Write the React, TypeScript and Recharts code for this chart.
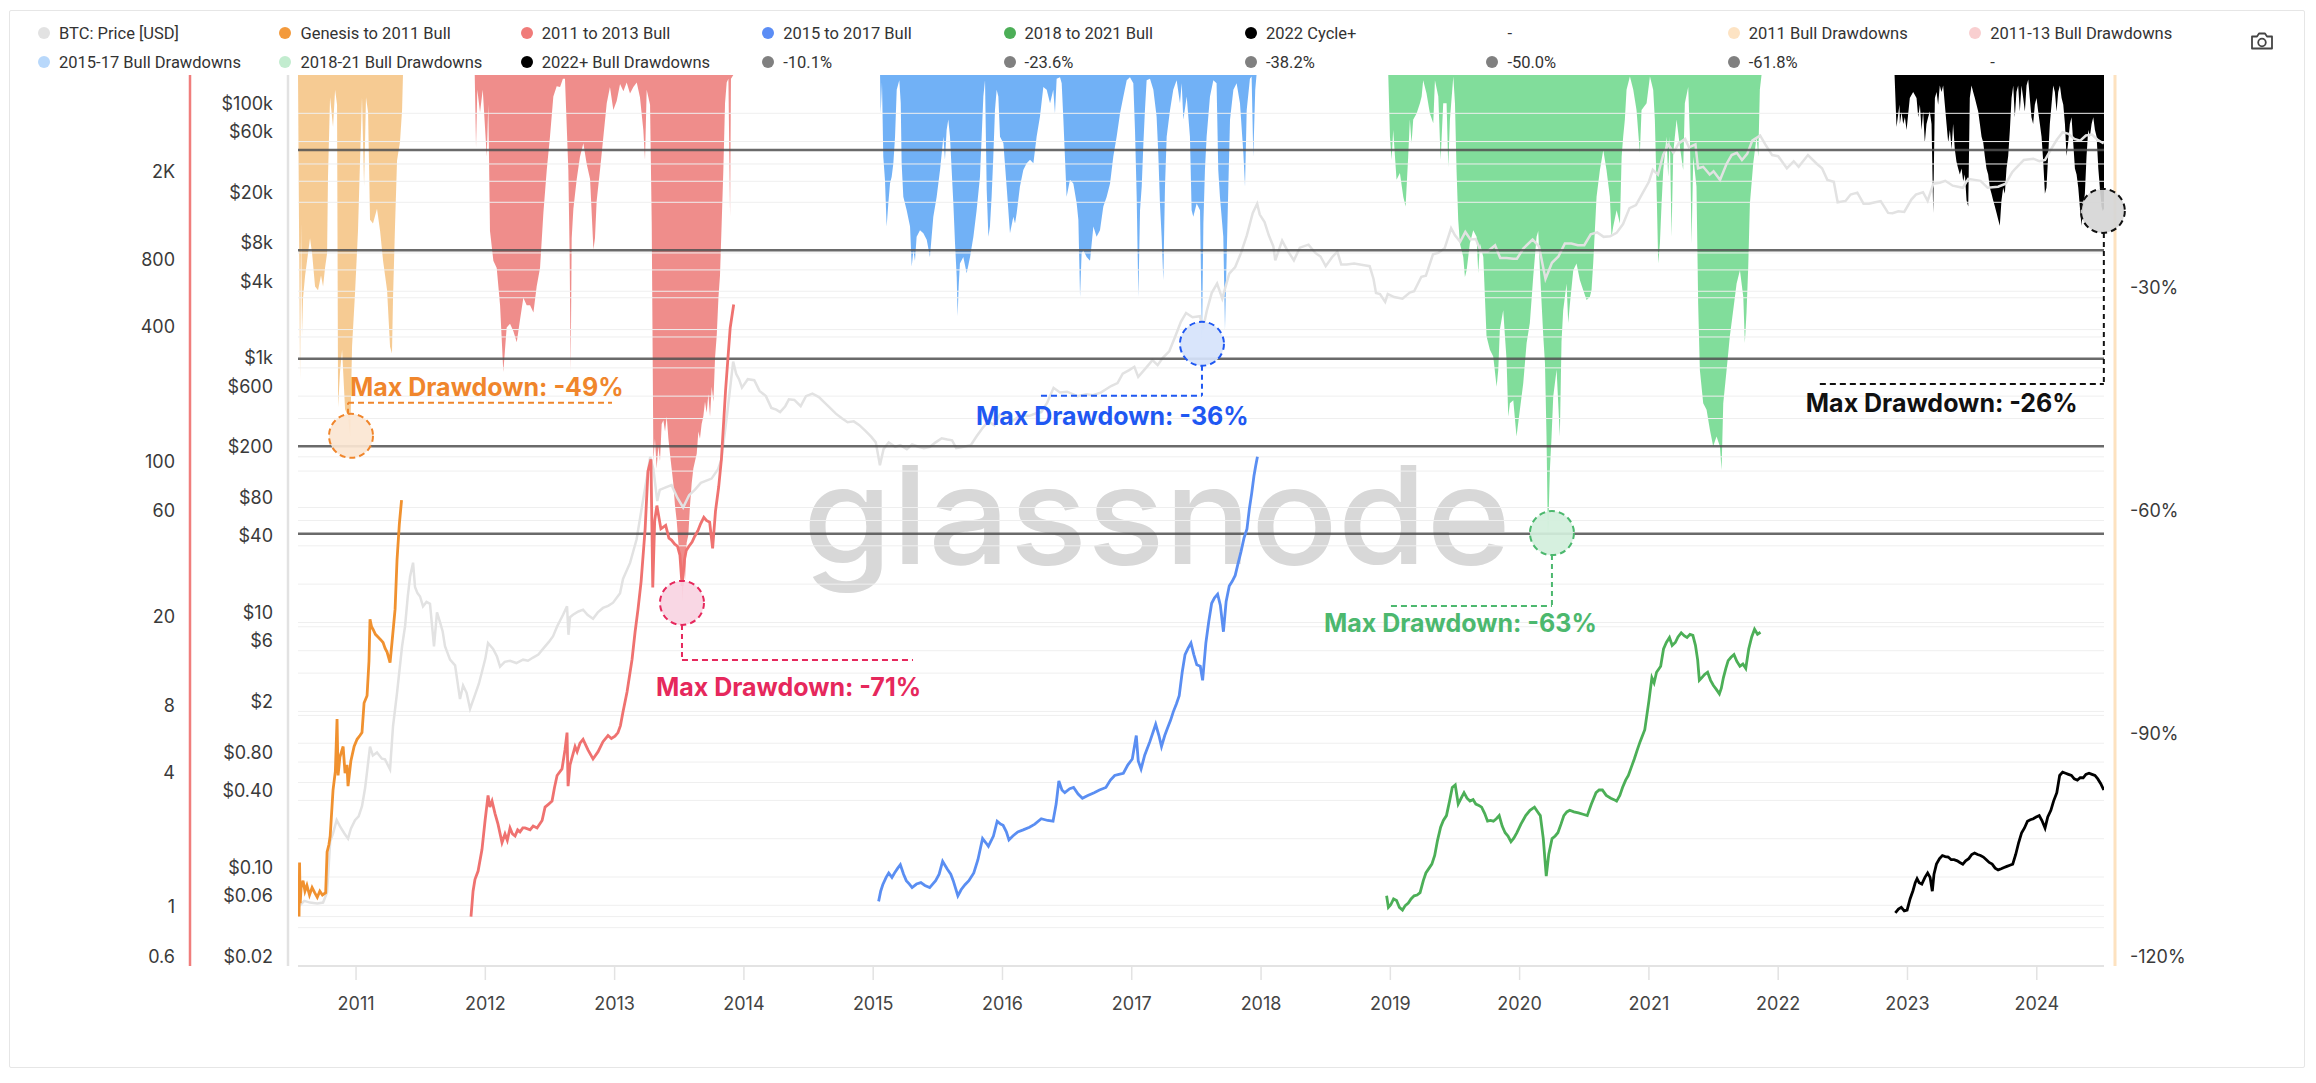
import React from 'react';
import { ComposedChart, Line, Area, XAxis, YAxis, ReferenceLine, ReferenceDot } from 'recharts';

// ---------- axes / categories ----------
const X_START = 2010.551;
const X_END = 2024.52;
const YEAR_TICKS = [2011, 2012, 2013, 2014, 2015, 2016, 2017, 2018, 2019, 2020, 2021, 2022, 2023, 2024];
const PRICE_TICKS = [100000, 60000, 40000, 20000, 8000, 4000, 2000, 1000, 600, 400, 200, 80, 40, 20, 10, 6, 4, 2, 0.8, 0.4, 0.2, 0.1, 0.06, 0.04, 0.02];
const PRICE_LABELED = [100000, 60000, 20000, 8000, 4000, 1000, 600, 200, 80, 40, 10, 6, 2, 0.8, 0.4, 0.1, 0.06, 0.02];
const MULT_TICKS = [2000, 800, 400, 100, 60, 20, 8, 4, 1, 0.6];
const DD_TICKS = [-30, -60, -90, -120];
const FIB_LEVELS = [-10.1, -23.6, -38.2, -50.0, -61.8];

// axis ids (inner price axis must sort before the outer multiple axis)
const AX_PRICE = 'a_price';
const AX_MULT = 'b_mult';
const AX_DD = 'c_dd';

// ---------- BTC price [USD] ----------
const BTC_PRICE = [
  [2010.559, 0.059], [2010.6, 0.065], [2010.644, 0.063], [2010.7, 0.062], [2010.745, 0.063], [2010.776, 0.076],
  [2010.8, 0.19], [2010.822, 0.22], [2010.85, 0.28], [2010.876, 0.25], [2010.91, 0.22], [2010.938, 0.2],
  [2010.96, 0.24], [2010.992, 0.28], [2011.02, 0.3], [2011.046, 0.36], [2011.07, 0.5], [2011.085, 0.67],
  [2011.108, 1.06], [2011.13, 0.9], [2011.162, 0.95], [2011.2, 0.85], [2011.224, 0.84], [2011.263, 0.7],
  [2011.286, 1.53], [2011.317, 2.8], [2011.356, 6.5], [2011.379, 9.3], [2011.4, 16], [2011.418, 23],
  [2011.441, 29.5], [2011.456, 19], [2011.475, 17], [2011.495, 16], [2011.518, 13.4], [2011.545, 14.5],
  [2011.572, 14], [2011.603, 6.5], [2011.626, 12], [2011.65, 10], [2011.67, 8.5], [2011.688, 6.5],
  [2011.727, 5.1], [2011.766, 4.6], [2011.804, 2.5], [2011.828, 3.2], [2011.855, 2.8], [2011.882, 2.1],
  [2011.92, 2.7], [2011.95, 3.3], [2011.974, 4.1], [2012.0, 5.2], [2012.021, 6.9], [2012.06, 6.2],
  [2012.09, 5.4], [2012.114, 4.5], [2012.15, 4.9], [2012.191, 5.0], [2012.24, 4.8], [2012.292, 5.1],
  [2012.33, 5.0], [2012.369, 5.3], [2012.41, 5.6], [2012.446, 6.2], [2012.49, 7.0], [2012.524, 7.8],
  [2012.555, 9.3], [2012.601, 11.5], [2012.632, 13.4], [2012.643, 8], [2012.655, 11], [2012.678, 11.5],
  [2012.72, 12.2], [2012.756, 12.6], [2012.79, 11.5], [2012.833, 10.7], [2012.87, 12], [2012.91, 13],
  [2012.95, 13.5], [2012.988, 14.3], [2013.042, 17], [2013.065, 22], [2013.12, 29.5], [2013.17, 45],
  [2013.213, 83], [2013.258, 155], [2013.275, 200], [2013.3, 160], [2013.33, 90], [2013.349, 110],
  [2013.395, 115], [2013.44, 120], [2013.486, 95], [2013.53, 80], [2013.576, 100], [2013.62, 110],
  [2013.667, 125], [2013.75, 135], [2013.8, 160], [2013.826, 190], [2013.871, 440], [2013.917, 1120],
  [2013.94, 900], [2013.962, 815], [2013.985, 700], [2014.03, 815], [2014.08, 800], [2014.121, 660],
  [2014.17, 600], [2014.212, 485], [2014.25, 470], [2014.28, 450], [2014.32, 500], [2014.348, 566],
  [2014.39, 560], [2014.439, 500], [2014.48, 600], [2014.53, 628], [2014.58, 590], [2014.62, 538],
  [2014.67, 480], [2014.711, 437], [2014.76, 400], [2014.802, 374], [2014.85, 380], [2014.893, 355],
  [2014.94, 320], [2014.984, 288], [2015.02, 260], [2015.052, 172], [2015.08, 230], [2015.12, 260],
  [2015.17, 240], [2015.21, 247], [2015.26, 230], [2015.301, 250], [2015.35, 240], [2015.392, 234],
  [2015.44, 240], [2015.483, 260], [2015.53, 280], [2015.574, 274], [2015.61, 270], [2015.642, 234],
  [2015.7, 240], [2015.755, 247], [2015.8, 290], [2015.846, 337], [2015.89, 380], [2015.937, 355],
  [2015.98, 430], [2016.02, 420], [2016.073, 380], [2016.12, 410], [2016.16, 420], [2016.209, 420],
  [2016.26, 440], [2016.3, 450], [2016.345, 530], [2016.395, 697], [2016.445, 640], [2016.5, 650],
  [2016.58, 600], [2016.65, 620], [2016.7, 610], [2016.76, 640], [2016.84, 720], [2016.89, 760],
  [2016.93, 900], [2016.98, 960], [2017.02, 1020], [2017.05, 850], [2017.11, 1000], [2017.16, 1150],
  [2017.2, 1050], [2017.24, 1200], [2017.29, 1350], [2017.33, 1700], [2017.38, 2300], [2017.42, 2700],
  [2017.47, 2500], [2017.528, 2550], [2017.55, 2000], [2017.58, 2800], [2017.618, 3870], [2017.66, 4600],
  [2017.7, 3500], [2017.754, 5500], [2017.8, 6200], [2017.845, 8000], [2017.89, 11000], [2017.936, 16500],
  [2017.97, 19500], [2017.99, 16000], [2018.027, 14000], [2018.06, 11000], [2018.095, 9000], [2018.11, 7000],
  [2018.163, 10000], [2018.2, 8500], [2018.254, 7000], [2018.3, 8800], [2018.367, 9300], [2018.42, 8000],
  [2018.46, 7500], [2018.5, 6300], [2018.549, 7400], [2018.59, 8200], [2018.62, 6500], [2018.662, 6500],
  [2018.72, 6600], [2018.798, 6400], [2018.84, 6300], [2018.87, 5000], [2018.889, 3870], [2018.92, 3800],
  [2018.96, 3300], [2018.98, 3800], [2019.03, 3600], [2019.094, 3500], [2019.15, 3900], [2019.184, 4000],
  [2019.24, 5200], [2019.275, 5300], [2019.33, 7800], [2019.37, 8000], [2019.42, 8700], [2019.47, 12500],
  [2019.5, 11000], [2019.54, 9800], [2019.58, 11700], [2019.62, 10200], [2019.661, 10300], [2019.7, 8200],
  [2019.752, 8200], [2019.81, 9200], [2019.85, 7300], [2019.9, 7300], [2019.95, 7200], [2019.979, 7200],
  [2020.03, 8700], [2020.1, 10200], [2020.15, 9000], [2020.2, 5000], [2020.25, 6700], [2020.3, 7500],
  [2020.35, 9500], [2020.4, 9500], [2020.45, 9200], [2020.5, 9200], [2020.55, 11200], [2020.6, 11600],
  [2020.65, 10700], [2020.7, 10800], [2020.75, 11500], [2020.8, 13500], [2020.85, 18000], [2020.9, 19000],
  [2020.95, 23500], [2021.0, 29000], [2021.03, 36000], [2021.07, 33000], [2021.11, 47000], [2021.15, 57000],
  [2021.19, 49000], [2021.23, 58000], [2021.28, 63000], [2021.31, 54000], [2021.36, 57000], [2021.38, 37000],
  [2021.42, 38000], [2021.47, 33000], [2021.5, 35000], [2021.55, 30000], [2021.6, 40000], [2021.64, 47000],
  [2021.68, 49000], [2021.72, 43000], [2021.76, 48000], [2021.8, 61000], [2021.86, 67000], [2021.9, 57000],
  [2021.953, 47000], [2022.0, 46000], [2022.067, 37000], [2022.12, 42000], [2022.158, 38000], [2022.23, 47000],
  [2022.3, 40000], [2022.339, 37000], [2022.38, 30000], [2022.43, 29000], [2022.46, 20000], [2022.521, 20500],
  [2022.56, 23000], [2022.612, 23800], [2022.66, 19500], [2022.702, 19500], [2022.75, 20000], [2022.793, 20400],
  [2022.85, 16500], [2022.884, 16400], [2022.93, 17000], [2022.975, 16800], [2023.03, 21000], [2023.065, 23000],
  [2023.12, 24000], [2023.156, 20500], [2023.2, 28000], [2023.25, 28500], [2023.292, 29500], [2023.35, 27000],
  [2023.428, 26000], [2023.47, 30500], [2023.52, 30000], [2023.565, 29500], [2023.62, 26000], [2023.701, 26500],
  [2023.76, 28000], [2023.81, 34500], [2023.837, 37000], [2023.9, 43000], [2023.973, 44000], [2024.02, 42000],
  [2024.064, 43000], [2024.11, 52000], [2024.155, 62000], [2024.2, 71000], [2024.245, 69000], [2024.29, 63000],
  [2024.336, 61000], [2024.38, 67000], [2024.427, 68000], [2024.47, 62000], [2024.518, 58000],
];

// ---------- cycle multiples (x from cycle low) ----------
const GENESIS_2011 = [
  [2010.559, 1.0], [2010.563, 1.75], [2010.568, 1.15], [2010.575, 1.35], [2010.59, 1.45], [2010.605, 1.3],
  [2010.62, 1.38], [2010.64, 1.25], [2010.66, 1.35], [2010.68, 1.28], [2010.7, 1.22], [2010.72, 1.3],
  [2010.74, 1.25], [2010.765, 1.28], [2010.776, 1.95], [2010.79, 2.1], [2010.8, 2.3], [2010.822, 3.7],
  [2010.84, 4.5], [2010.853, 7.7], [2010.861, 4.3], [2010.875, 5.2], [2010.9, 5.8], [2010.915, 4.4],
  [2010.93, 4.8], [2010.938, 3.85], [2010.96, 5.0], [2010.985, 5.8], [2011.008, 6.25], [2011.03, 6.5],
  [2011.046, 6.7], [2011.062, 9.1], [2011.085, 9.8], [2011.1, 14], [2011.108, 21.6], [2011.12, 20],
  [2011.131, 19.5], [2011.15, 18.5], [2011.17, 18], [2011.19, 17.5], [2011.209, 17], [2011.225, 16],
  [2011.24, 15.4], [2011.263, 13.8], [2011.278, 17], [2011.302, 24], [2011.317, 40], [2011.335, 58],
  [2011.352, 74],
];
const BULL_2011_2013 = [
  [2011.889, 1.0], [2011.905, 1.3], [2011.92, 1.47], [2011.944, 1.6], [2011.974, 2.0], [2011.998, 2.7],
  [2012.021, 3.5], [2012.035, 3.1], [2012.052, 3.3], [2012.075, 2.9], [2012.098, 2.6], [2012.129, 2.15],
  [2012.152, 2.35], [2012.17, 2.2], [2012.191, 2.5], [2012.21, 2.35], [2012.23, 2.3], [2012.25, 2.45],
  [2012.268, 2.4], [2012.29, 2.5], [2012.307, 2.5], [2012.346, 2.45], [2012.37, 2.55], [2012.4, 2.5],
  [2012.439, 2.7], [2012.462, 3.1], [2012.49, 3.2], [2012.516, 3.3], [2012.535, 3.8], [2012.555, 4.3],
  [2012.593, 4.6], [2012.616, 5.6], [2012.632, 6.7], [2012.64, 3.85], [2012.655, 4.8], [2012.694, 5.8],
  [2012.71, 5.5], [2012.732, 6.0], [2012.756, 6.25], [2012.794, 5.6], [2012.833, 5.1], [2012.872, 5.5],
  [2012.91, 6.1], [2012.949, 6.5], [2012.975, 6.3], [2013.003, 6.45], [2013.026, 6.7], [2013.045, 7.2],
  [2013.065, 8.3], [2013.096, 10.2], [2013.135, 14.3], [2013.158, 18.9], [2013.181, 24], [2013.205, 32],
  [2013.236, 55], [2013.258, 100], [2013.281, 113], [2013.295, 30], [2013.31, 60], [2013.327, 70],
  [2013.358, 55], [2013.395, 57], [2013.42, 50], [2013.44, 49], [2013.465, 47], [2013.486, 46],
  [2013.505, 42], [2013.522, 30.5], [2013.54, 40], [2013.554, 44], [2013.575, 46], [2013.599, 48],
  [2013.62, 51], [2013.644, 54], [2013.665, 58], [2013.69, 62], [2013.71, 60], [2013.735, 59],
  [2013.758, 45], [2013.78, 66], [2013.805, 85], [2013.826, 113], [2013.858, 230], [2013.894, 440],
  [2013.921, 560],
];
const BULL_2015_2017 = [
  [2015.042, 1.17], [2015.058, 1.3], [2015.074, 1.39], [2015.1, 1.5], [2015.12, 1.57], [2015.145, 1.5],
  [2015.165, 1.57], [2015.19, 1.65], [2015.21, 1.71], [2015.235, 1.55], [2015.256, 1.45], [2015.28, 1.4],
  [2015.301, 1.35], [2015.335, 1.4], [2015.369, 1.42], [2015.4, 1.38], [2015.437, 1.35], [2015.46, 1.4],
  [2015.483, 1.45], [2015.51, 1.55], [2015.537, 1.77], [2015.555, 1.7], [2015.574, 1.63], [2015.6, 1.55],
  [2015.619, 1.45], [2015.655, 1.24], [2015.68, 1.32], [2015.71, 1.39], [2015.74, 1.45], [2015.778, 1.57],
  [2015.81, 1.8], [2015.846, 2.24], [2015.87, 2.15], [2015.891, 2.07], [2015.93, 2.3], [2015.959, 2.68],
  [2015.985, 2.6], [2016.005, 2.57], [2016.03, 2.4], [2016.05, 2.21], [2016.08, 2.3], [2016.118, 2.4],
  [2016.16, 2.45], [2016.209, 2.52], [2016.25, 2.6], [2016.3, 2.75], [2016.35, 2.7], [2016.391, 2.68],
  [2016.415, 3.2], [2016.436, 4.06], [2016.46, 3.7], [2016.482, 3.6], [2016.52, 3.75], [2016.55, 3.8],
  [2016.585, 3.55], [2016.618, 3.4], [2016.66, 3.5], [2016.709, 3.6], [2016.75, 3.7], [2016.8, 3.8],
  [2016.835, 4.1], [2016.868, 4.3], [2016.9, 4.35], [2016.935, 4.4], [2016.97, 4.8], [2017.004, 5.1],
  [2017.035, 6.5], [2017.05, 5.0], [2017.072, 4.6], [2017.1, 5.3], [2017.14, 6.1], [2017.185, 7.3],
  [2017.21, 6.5], [2017.23, 5.8], [2017.255, 6.5], [2017.276, 7.0], [2017.3, 7.6], [2017.321, 8.3],
  [2017.345, 9.0], [2017.367, 9.8], [2017.39, 12.5], [2017.412, 15], [2017.435, 16], [2017.458, 16.9],
  [2017.48, 15], [2017.503, 13.5], [2017.53, 13.3], [2017.548, 11.5], [2017.573, 16.9], [2017.595, 21],
  [2017.618, 25.5], [2017.64, 27], [2017.664, 28], [2017.685, 25], [2017.709, 19], [2017.73, 26],
  [2017.754, 30.5], [2017.777, 32], [2017.8, 34], [2017.82, 38], [2017.845, 43.5], [2017.868, 50],
  [2017.891, 55], [2017.91, 68], [2017.927, 79], [2017.945, 95], [2017.959, 106], [2017.972, 116],
];
const BULL_2018_2021 = [
  [2018.971, 1.24], [2018.985, 1.1], [2019.003, 1.13], [2019.025, 1.2], [2019.048, 1.18], [2019.07, 1.1],
  [2019.094, 1.07], [2019.115, 1.12], [2019.139, 1.15], [2019.16, 1.2], [2019.184, 1.24], [2019.207, 1.25],
  [2019.23, 1.28], [2019.255, 1.45], [2019.275, 1.57], [2019.3, 1.65], [2019.321, 1.72], [2019.343, 1.88],
  [2019.365, 2.2], [2019.389, 2.52], [2019.41, 2.7], [2019.434, 2.84], [2019.458, 3.3], [2019.479, 3.8],
  [2019.502, 3.9], [2019.525, 3.2], [2019.548, 3.4], [2019.57, 3.6], [2019.593, 3.4], [2019.616, 3.3],
  [2019.64, 3.35], [2019.661, 3.2], [2019.685, 3.15], [2019.706, 3.1], [2019.73, 2.9], [2019.752, 2.68],
  [2019.775, 2.7], [2019.797, 2.68], [2019.82, 2.75], [2019.842, 2.84], [2019.865, 2.55], [2019.888, 2.38],
  [2019.91, 2.3], [2019.933, 2.17], [2019.955, 2.25], [2019.979, 2.38], [2020.01, 2.6], [2020.047, 2.84],
  [2020.08, 3.0], [2020.115, 3.1], [2020.14, 2.95], [2020.16, 2.84], [2020.183, 2.24], [2020.206, 1.52],
  [2020.225, 1.9], [2020.251, 2.24], [2020.275, 2.3], [2020.296, 2.38], [2020.32, 2.6], [2020.342, 2.84],
  [2020.365, 2.95], [2020.387, 3.0], [2020.42, 2.95], [2020.455, 2.92], [2020.49, 2.88], [2020.523, 2.84],
  [2020.555, 3.2], [2020.591, 3.6], [2020.615, 3.7], [2020.64, 3.7], [2020.67, 3.5], [2020.705, 3.4],
  [2020.73, 3.35], [2020.75, 3.3], [2020.775, 3.5], [2020.796, 3.8], [2020.82, 4.1], [2020.841, 4.3],
  [2020.865, 4.7], [2020.887, 5.1], [2020.91, 5.6], [2020.932, 6.1], [2020.968, 6.9], [2021.0, 9.3],
  [2021.023, 11.8], [2021.04, 11.2], [2021.059, 12.5], [2021.091, 13.3], [2021.113, 15.9], [2021.135, 17],
  [2021.159, 17.9], [2021.18, 16.5], [2021.204, 17], [2021.225, 18], [2021.25, 18.8], [2021.275, 18.2],
  [2021.295, 17.9], [2021.318, 18.5], [2021.34, 18.3], [2021.36, 16.5], [2021.377, 14.2], [2021.39, 11.5],
  [2021.408, 11.8], [2021.43, 12.2], [2021.454, 12.5], [2021.477, 11.5], [2021.499, 10.9], [2021.52, 10.5],
  [2021.545, 10], [2021.56, 10.6], [2021.576, 11.8], [2021.595, 13], [2021.613, 14.1], [2021.635, 14.6],
  [2021.658, 15], [2021.68, 14], [2021.704, 13.3], [2021.727, 13.6], [2021.749, 13], [2021.772, 15.9],
  [2021.795, 18], [2021.817, 19.5], [2021.84, 18.5], [2021.863, 18.9],
];
const CYCLE_2022 = [
  [2022.906, 1.04], [2022.93, 1.08], [2022.952, 1.1], [2022.975, 1.06], [2022.997, 1.07], [2023.02, 1.2],
  [2023.043, 1.31], [2023.06, 1.42], [2023.074, 1.48], [2023.09, 1.42], [2023.111, 1.4], [2023.135, 1.5],
  [2023.156, 1.57], [2023.175, 1.5], [2023.192, 1.3], [2023.205, 1.55], [2023.224, 1.72], [2023.248, 1.82],
  [2023.27, 1.88], [2023.292, 1.86], [2023.315, 1.85], [2023.338, 1.8], [2023.36, 1.8], [2023.385, 1.78],
  [2023.405, 1.75], [2023.428, 1.72], [2023.45, 1.78], [2023.474, 1.82], [2023.497, 1.9], [2023.519, 1.93],
  [2023.542, 1.9], [2023.565, 1.88], [2023.587, 1.85], [2023.61, 1.8], [2023.632, 1.75], [2023.655, 1.72],
  [2023.678, 1.65], [2023.701, 1.62], [2023.725, 1.64], [2023.747, 1.66], [2023.769, 1.68], [2023.792, 1.7],
  [2023.814, 1.72], [2023.837, 1.9], [2023.86, 2.15], [2023.883, 2.38], [2023.905, 2.5], [2023.928, 2.68],
  [2023.95, 2.72], [2023.973, 2.75], [2023.995, 2.8], [2024.019, 2.84], [2024.04, 2.7], [2024.064, 2.5],
  [2024.085, 2.8], [2024.109, 3.0], [2024.13, 3.3], [2024.155, 3.6], [2024.177, 4.3], [2024.2, 4.45],
  [2024.223, 4.4], [2024.245, 4.35], [2024.268, 4.3], [2024.29, 4.15], [2024.314, 4.1], [2024.336, 4.2],
  [2024.359, 4.2], [2024.38, 4.35], [2024.404, 4.4], [2024.427, 4.35], [2024.45, 4.3], [2024.472, 4.15],
  [2024.495, 3.95], [2024.518, 3.7],
];

// ---------- drawdowns from cycle ATH (%) ----------
const DD_2011 = [
  [2010.551, 0], [2010.567, -41], [2010.575, -20], [2010.582, -35], [2010.59, -30], [2010.606, -27],
  [2010.621, -25], [2010.644, -22], [2010.66, -24], [2010.683, -28.5], [2010.706, -29], [2010.729, -27],
  [2010.745, -28.5], [2010.76, -26], [2010.776, -24], [2010.783, -13.7], [2010.799, -3], [2010.822, -7],
  [2010.838, -2], [2010.853, -4], [2010.861, -44.7], [2010.876, -40], [2010.892, -37], [2010.915, -45],
  [2010.938, -46], [2010.955, -48.8], [2010.969, -36.6], [2010.992, -29.4], [2011.015, -21], [2011.031, -11.5],
  [2011.046, -3], [2011.062, -15], [2011.077, -3], [2011.093, -5], [2011.108, -19.5], [2011.131, -20],
  [2011.162, -18], [2011.186, -21], [2011.209, -25], [2011.24, -29], [2011.263, -36.6], [2011.278, -37.5],
  [2011.286, -30], [2011.302, -20], [2011.317, -11.5], [2011.34, -9], [2011.356, -4.7], [2011.363, 0],
];
const DD_2011_13 = [
  [2011.918, 0], [2011.928, -9.7], [2011.938, -2], [2011.959, -5], [2011.98, -2], [2012.011, -11],
  [2012.023, -4], [2012.036, -21], [2012.062, -25], [2012.088, -26], [2012.114, -31], [2012.139, -40],
  [2012.152, -37], [2012.165, -34], [2012.191, -33.5], [2012.217, -34.5], [2012.243, -36], [2012.268, -33],
  [2012.294, -30], [2012.32, -31], [2012.346, -31], [2012.372, -32], [2012.397, -28.5], [2012.423, -26],
  [2012.449, -18.6], [2012.475, -12.8], [2012.5, -8.3], [2012.526, -2.9], [2012.552, -1.5], [2012.578, -1.6],
  [2012.6, -0.5], [2012.616, -0.5], [2012.642, -12.8], [2012.652, -24], [2012.66, -40], [2012.668, -22],
  [2012.681, -18], [2012.707, -14], [2012.732, -11], [2012.758, -9.2], [2012.784, -12], [2012.81, -14],
  [2012.836, -23.5], [2012.848, -22], [2012.861, -17], [2012.887, -12.8], [2012.913, -8.3], [2012.939, -3.8],
  [2012.964, -1.6], [2012.99, -4.7], [2013.016, -3.5], [2013.042, -1.2], [2013.068, -2.2], [2013.093, -1],
  [2013.119, -2.5], [2013.145, -1.6], [2013.171, -1], [2013.196, -3], [2013.222, -7.4], [2013.235, -11.4],
  [2013.248, -2], [2013.274, -4], [2013.287, -20], [2013.3, -52], [2013.312, -49], [2013.325, -53],
  [2013.338, -50], [2013.351, -52], [2013.364, -47], [2013.377, -46.5], [2013.39, -48], [2013.403, -46],
  [2013.416, -49], [2013.428, -51], [2013.441, -53], [2013.454, -55], [2013.467, -58], [2013.48, -60],
  [2013.493, -63], [2013.506, -65], [2013.517, -67], [2013.527, -71], [2013.536, -66], [2013.545, -68],
  [2013.557, -63], [2013.57, -62], [2013.583, -58], [2013.596, -55], [2013.609, -53], [2013.622, -52],
  [2013.635, -51], [2013.648, -48], [2013.66, -49], [2013.673, -47], [2013.686, -46], [2013.699, -44],
  [2013.712, -45.5], [2013.725, -43], [2013.738, -46], [2013.751, -42], [2013.764, -44], [2013.777, -38],
  [2013.79, -35], [2013.803, -30], [2013.815, -27], [2013.828, -20], [2013.841, -12.8], [2013.854, -3.8],
  [2013.867, -1], [2013.88, -0.5], [2013.893, -19], [2013.9, -0.5], [2013.918, 0],
];
const DD_2015_17 = [
  [2015.053, 0], [2015.058, -5.2], [2015.068, -1], [2015.078, -11], [2015.091, -14.1], [2015.104, -20.4],
  [2015.117, -17.3], [2015.13, -14.6], [2015.143, -13.7], [2015.156, -11.9], [2015.169, -8.3], [2015.182, -2],
  [2015.202, -0.7], [2015.213, -3.8], [2015.22, -11.9], [2015.233, -16.4], [2015.259, -18.2], [2015.285, -20.4],
  [2015.298, -25.8], [2015.311, -23.6], [2015.323, -25], [2015.336, -21.8], [2015.362, -20.9], [2015.388, -21.3],
  [2015.414, -22.2], [2015.439, -24.5], [2015.465, -19.1], [2015.491, -16.4], [2015.517, -12.8], [2015.543, -8.3],
  [2015.555, -11.4], [2015.568, -7.4], [2015.581, -6], [2015.594, -8.3], [2015.607, -12.8], [2015.62, -17.3],
  [2015.633, -22.7], [2015.646, -27.2], [2015.653, -32.5], [2015.661, -28.5], [2015.671, -25.4], [2015.697, -24.5],
  [2015.723, -26.7], [2015.749, -24.5], [2015.775, -21.8], [2015.8, -18.2], [2015.826, -13.7], [2015.839, -8.3],
  [2015.852, -2.9], [2015.865, -0.7], [2015.878, -15.5], [2015.891, -21.8], [2015.903, -20.4], [2015.916, -16.4],
  [2015.929, -11], [2015.942, -4.7], [2015.955, -2], [2015.968, -2.9], [2015.981, -8.3], [2016.007, -9.2],
  [2016.032, -15], [2016.058, -21.3], [2016.084, -19.1], [2016.097, -20], [2016.11, -18.6], [2016.135, -15],
  [2016.161, -12.8], [2016.187, -11.9], [2016.213, -11.4], [2016.239, -11.9], [2016.264, -8.3], [2016.29, -5.6],
  [2016.316, -1.6], [2016.342, -2], [2016.368, -3.8], [2016.393, -2], [2016.406, -5.2], [2016.419, -0.5],
  [2016.445, -0.3], [2016.458, -1.1], [2016.471, -6], [2016.484, -11.4], [2016.496, -16.4], [2016.522, -14.1],
  [2016.548, -14.6], [2016.574, -17.3], [2016.587, -19.5], [2016.6, -29.9], [2016.612, -24], [2016.625, -23.6],
  [2016.651, -24.5], [2016.677, -25], [2016.703, -20.4], [2016.728, -21.8], [2016.754, -20.9], [2016.78, -17.7],
  [2016.806, -16.4], [2016.832, -14.6], [2016.857, -11], [2016.883, -8.3], [2016.909, -5.2], [2016.935, -2.9],
  [2016.961, -0.7], [2016.986, -0.3], [2017.012, -1.1], [2017.025, -7.4], [2017.038, -16.4], [2017.051, -29.9],
  [2017.064, -18.2], [2017.077, -15], [2017.09, -9.2], [2017.102, -4.7], [2017.115, -0.7], [2017.141, -0.5],
  [2017.167, -2], [2017.192, -5.6], [2017.205, -10.5], [2017.218, -17.3], [2017.231, -21.8], [2017.244, -27.6],
  [2017.257, -15], [2017.27, -8.3], [2017.296, -4.7], [2017.321, -2], [2017.347, -0.7], [2017.373, -3.8],
  [2017.386, -1.1], [2017.399, -6], [2017.425, -2.9], [2017.45, -8.3], [2017.463, -18.2], [2017.476, -19.1],
  [2017.502, -17.3], [2017.528, -18.2], [2017.543, -36.1], [2017.554, -20], [2017.566, -12.8], [2017.579, -8.3],
  [2017.605, -2.9], [2017.631, -0.7], [2017.656, -1.1], [2017.669, -12.8], [2017.682, -16.4], [2017.708, -21.8],
  [2017.721, -34.3], [2017.734, -24.5], [2017.747, -15], [2017.76, -6], [2017.786, -2], [2017.811, -1.1],
  [2017.837, -3.8], [2017.863, -10.5], [2017.876, -15], [2017.889, -4.7], [2017.914, -0.5], [2017.927, -0.2],
  [2017.94, -11], [2017.955, -2], [2017.965, 0],
];
const DD_2018_21 = [
  [2018.984, 0], [2018.997, -8.3], [2019.01, -11.4], [2019.022, -7.4], [2019.048, -14.1], [2019.074, -13.2],
  [2019.1, -16.4], [2019.118, -17.7], [2019.138, -11], [2019.151, -6], [2019.164, -9.2], [2019.177, -6],
  [2019.203, -5.2], [2019.229, -3.8], [2019.242, -2.9], [2019.254, -0.7], [2019.28, -2.5], [2019.306, -5.2],
  [2019.332, -6.5], [2019.345, -0.7], [2019.371, -2.9], [2019.389, -11.4], [2019.409, -3.8], [2019.435, -3.8],
  [2019.448, -12.4], [2019.461, -6], [2019.487, -0.2], [2019.5, -3.8], [2019.512, -12.8], [2019.525, -19.5],
  [2019.538, -22.7], [2019.564, -24.5], [2019.577, -27.2], [2019.59, -26.3], [2019.615, -22.7], [2019.641, -20.9],
  [2019.667, -21.8], [2019.68, -26.7], [2019.693, -22.7], [2019.719, -24.5], [2019.744, -35.2], [2019.77, -37],
  [2019.796, -37.9], [2019.822, -42], [2019.835, -39.7], [2019.847, -34.3], [2019.873, -31.7], [2019.899, -38.4],
  [2019.912, -46], [2019.925, -44.2], [2019.951, -43.8], [2019.976, -48.7], [2020.002, -45.1], [2020.028, -41.5],
  [2020.054, -36.1], [2020.079, -33.4], [2020.105, -27.2], [2020.131, -21.8], [2020.144, -21], [2020.157, -26.3],
  [2020.183, -35.2], [2020.196, -38.8], [2020.208, -48.7], [2020.219, -62.6], [2020.234, -53.2], [2020.247, -48.7],
  [2020.26, -43.3], [2020.286, -39.7], [2020.311, -48.7], [2020.324, -35.9], [2020.337, -31.7], [2020.363, -28.1],
  [2020.376, -33.4], [2020.389, -30.8], [2020.415, -26.3], [2020.44, -25.4], [2020.466, -27.6], [2020.492, -29],
  [2020.518, -30.3], [2020.543, -29.9], [2020.556, -29], [2020.569, -25.4], [2020.582, -20.9], [2020.595, -16.4],
  [2020.621, -12.8], [2020.647, -10.1], [2020.672, -12.8], [2020.698, -16.4], [2020.711, -21.8], [2020.724, -20.4],
  [2020.75, -18.2], [2020.776, -20], [2020.789, -11], [2020.801, -8.3], [2020.814, -6], [2020.827, -2],
  [2020.853, -0.2], [2020.879, -2], [2020.904, -4.7], [2020.93, -10.5], [2020.943, -4.7], [2020.982, -3.8],
  [2021.008, -0.2], [2021.033, -2], [2021.046, -6], [2021.059, -15], [2021.072, -25.4], [2021.085, -22.7],
  [2021.098, -17.3], [2021.111, -12.8], [2021.136, -8.3], [2021.149, -13.7], [2021.162, -8.3], [2021.175, -21.8],
  [2021.188, -10.5], [2021.214, -6], [2021.24, -9.7], [2021.265, -12.8], [2021.278, -3.8], [2021.304, -1.6],
  [2021.317, -8.3], [2021.33, -22.7], [2021.343, -11], [2021.368, -15], [2021.381, -30.8], [2021.394, -39.7],
  [2021.42, -44.2], [2021.446, -45.1], [2021.472, -47.8], [2021.497, -50], [2021.523, -48.7], [2021.549, -50],
  [2021.562, -53.2], [2021.575, -44.2], [2021.601, -39.7], [2021.626, -35.2], [2021.652, -31.7], [2021.678, -28.1],
  [2021.704, -26.3], [2021.73, -29.9], [2021.742, -36.1], [2021.755, -32], [2021.768, -26], [2021.781, -17.3],
  [2021.807, -11.9], [2021.833, -8.3], [2021.846, -11], [2021.858, -2], [2021.871, 0],
];
const DD_2022 = [
  [2022.9, 0], [2022.915, -7], [2022.938, -4], [2022.941, -6.6], [2022.954, -5], [2022.967, -6.6],
  [2022.98, -5.7], [2022.993, -7.4], [2023.018, -3.1], [2023.044, -2.3], [2023.07, -3.1], [2023.083, -5.7],
  [2023.096, -4], [2023.109, -7.4], [2023.121, -4.9], [2023.134, -9.1], [2023.147, -6.6], [2023.16, -5.7],
  [2023.173, -4.9], [2023.186, -6.6], [2023.199, -18.6], [2023.212, -3.1], [2023.225, -2.3], [2023.237, -4],
  [2023.25, -1.4], [2023.263, -2.3], [2023.276, -1.4], [2023.289, -4], [2023.302, -6.6], [2023.315, -9.1],
  [2023.328, -7.4], [2023.341, -10], [2023.353, -6.6], [2023.366, -10], [2023.379, -11.7], [2023.392, -12.6],
  [2023.405, -13.4], [2023.418, -12.6], [2023.431, -14.3], [2023.444, -13.4], [2023.457, -16.9], [2023.47, -17.7],
  [2023.482, -3.1], [2023.495, -1.4], [2023.508, -2.3], [2023.521, -3.1], [2023.534, -4], [2023.547, -4.9],
  [2023.56, -6.6], [2023.573, -8.3], [2023.586, -9.1], [2023.598, -10.9], [2023.611, -12.6], [2023.624, -13.4],
  [2023.637, -15.2], [2023.65, -16], [2023.663, -16.9], [2023.676, -17.7], [2023.689, -18.6], [2023.702, -19.5],
  [2023.714, -20.3], [2023.727, -16.9], [2023.74, -15.2], [2023.753, -16], [2023.766, -12.6], [2023.779, -10.9],
  [2023.792, -7.4], [2023.805, -3.1], [2023.818, -1.4], [2023.83, -5.7], [2023.843, -2.3], [2023.856, -1.4],
  [2023.869, -4.9], [2023.882, -1.4], [2023.895, -3.1], [2023.908, -4.9], [2023.921, -1.4], [2023.934, -0.6],
  [2023.946, -3.1], [2023.959, -5.7], [2023.972, -6.6], [2023.985, -4], [2023.998, -3.1], [2024.011, -4.9],
  [2024.024, -6.6], [2024.037, -8.3], [2024.05, -11.7], [2024.063, -16], [2024.075, -15.2], [2024.088, -10.9],
  [2024.101, -6.6], [2024.114, -4], [2024.127, -1.4], [2024.14, -2.3], [2024.153, -4.9], [2024.166, -2.3],
  [2024.179, -1.4], [2024.192, -3.1], [2024.205, -4], [2024.218, -6.6], [2024.23, -10.9], [2024.243, -9.1],
  [2024.256, -6.6], [2024.269, -5.7], [2024.282, -9.1], [2024.295, -12.6], [2024.308, -13.4], [2024.321, -15.2],
  [2024.333, -17.7], [2024.346, -20.3], [2024.359, -17.7], [2024.372, -16], [2024.385, -10.9], [2024.398, -7.4],
  [2024.411, -8.3], [2024.424, -6.6], [2024.437, -5.7], [2024.45, -7.4], [2024.463, -8.3], [2024.476, -12.6],
  [2024.488, -15.2], [2024.501, -17.7], [2024.51, -18.3], [2024.52, -18],
];

// ---------- max drawdown annotations ----------
const MAX_DD_POINTS = [[2010.961, -48.6], [2013.521, -71.1], [2017.543, -36.2], [2020.25, -61.7], [2024.511, -18.3]];
const MAX_DD_LABELS = ['Max Drawdown: -49%', 'Max Drawdown: -71%', 'Max Drawdown: -36%', 'Max Drawdown: -63%', 'Max Drawdown: -26%'];
const ANN_STYLE = [
  { color: '#f0862c', fill: '#fbe6d2', lineDy: -33, x0: -3, x1: 261, vx: -3, tdx: -1, tdy: -49 },
  { color: '#e6285c', fill: '#f9d4e2', lineDy: 57, x0: 0, x1: 231, vx: 0, tdx: -26, tdy: 84 },
  { color: '#1f58f2', fill: '#d6e3fb', lineDy: 52, x0: -161, x1: 0, vx: 0, tdx: -226, tdy: 72 },
  { color: '#4cb86e', fill: '#d3efdc', lineDy: 73, x0: -161, x1: 0, vx: 0, tdx: -228, tdy: 90 },
  { color: '#111111', fill: '#d6d6d6', lineDy: 173, x0: -283, x1: 1, vx: 1, tdx: -297, tdy: 192 },
];

// ---------- legend ----------
const LEGEND_ROW_1 = [
  ['BTC: Price [USD]', '#e2e2e2'], ['Genesis to 2011 Bull', '#f39a3c'], ['2011 to 2013 Bull', '#f07b79'],
  ['2015 to 2017 Bull', '#5b8df5'], ['2018 to 2021 Bull', '#4cae57'], ['2022 Cycle+', '#000000'],
  ['-', null], ['2011 Bull Drawdowns', '#fde3c3'], ['2011-13 Bull Drawdowns', '#f9cfd0'],
];
const LEGEND_ROW_2 = [
  ['2015-17 Bull Drawdowns', '#b8d8fb'], ['2018-21 Bull Drawdowns', '#c2eccf'], ['2022+ Bull Drawdowns', '#000000'],
  ['-10.1%', '#808080'], ['-23.6%', '#808080'], ['-38.2%', '#808080'], ['-50.0%', '#808080'], ['-61.8%', '#808080'],
  ['-', null],
];

const rows = (arr: number[][]) => arr.map(([t, v]) => ({ t, v }));
const FONT = 'Inter, "Noto Sans", sans-serif';

const fmtPrice = (v: number) => (v >= 1000 ? `$${v / 1000}k` : v >= 1 ? `$${v}` : `$${v.toFixed(2)}`);
const fmtMult = (v: number) => (v >= 1000 ? `${v / 1000}K` : `${v}`);

const PriceTick = (p: any) => {
  const v = p.payload.value;
  if (!PRICE_LABELED.some((x) => Math.abs(x - v) < 1e-9)) return <g />;
  return (
    <text x={p.x} y={p.y - 10} textAnchor="end" dominantBaseline="central" fontSize={18} fill="#3a3a3a" fontFamily={FONT}>
      {fmtPrice(v)}
    </text>
  );
};
const MultTick = (p: any) => (
  <text x={p.x} y={p.y - 10} textAnchor="end" dominantBaseline="central" fontSize={18} fill="#3a3a3a" fontFamily={FONT}>
    {fmtMult(p.payload.value)}
  </text>
);
const DdTick = (p: any) => (
  <text x={p.x} y={p.y - 10} textAnchor="start" dominantBaseline="central" fontSize={18} fill="#3a3a3a" fontFamily={FONT}>
    {`${p.payload.value}%`}
  </text>
);
const YearTick = (p: any) => (
  <text x={p.x} y={p.y + 15} textAnchor="middle" dominantBaseline="central" fontSize={18} fill="#444" fontFamily={FONT}>
    {p.payload.value}
  </text>
);

const makeAnnotation = (i: number) => (p: any) => {
  const { cx, cy } = p;
  if (cx == null || cy == null) return <g />;
  const s = ANN_STYLE[i];
  const r = 22;
  const vy0 = s.lineDy < 0 ? cy - r : cy + r;
  const ly = cy + s.lineDy;
  return (
    <g>
      <circle cx={cx} cy={cy} r={r} fill={s.fill} fillOpacity={0.92} stroke={s.color} strokeWidth={2} strokeDasharray="6 4" />
      <line x1={cx + s.vx} y1={vy0} x2={cx + s.vx} y2={ly} stroke={s.color} strokeWidth={2} strokeDasharray="5 4" />
      <line x1={cx + s.x0} y1={ly} x2={cx + s.x1} y2={ly} stroke={s.color} strokeWidth={2} strokeDasharray="6 4" />
      <text x={cx + s.tdx} y={cy + s.tdy} dominantBaseline="central" fontSize={25} fontWeight={700} fill={s.color} fontFamily={FONT}>
        {MAX_DD_LABELS[i]}
      </text>
    </g>
  );
};

const LegendRow = ({ items, y }: { items: any[]; y: number }) => (
  <>
    {items.map(([label, color], i) => {
      const cx = 44 + i * 241.4;
      return (
        <div key={label + i} style={{ position: 'absolute', left: cx - 6, top: y - 11, height: 22, display: 'flex', alignItems: 'center', whiteSpace: 'nowrap' }}>
          <span style={{ width: 12, height: 12, borderRadius: 6, background: color || 'transparent', display: 'inline-block' }} />
          <span style={{ marginLeft: 9, fontSize: 16.5, color: '#333', fontFamily: 'Roboto, sans-serif' }}>{label}</span>
        </div>
      );
    })}
  </>
);

export default function App() {
  const fibData = FIB_LEVELS.map((f) => [{ t: X_START, v: f }, { t: X_END, v: f }]);
  return (
    <div style={{ position: 'absolute', left: 0, top: 0, width: 2316, height: 1083, background: '#fff', fontFamily: FONT }}>
      <div style={{ position: 'absolute', left: 9, top: 10, width: 2294, height: 1056, border: '1.5px solid #e6e6e6', borderRadius: 2 }} />
      <svg style={{ position: 'absolute', left: 0, top: 0 }} width={2316} height={1083}>
        <text x={803} y={564} fontSize={136} fontWeight={500} fill="#d8d8d8" fontFamily={FONT} textLength={708} lengthAdjust="spacingAndGlyphs">
          glassnode
        </text>
      </svg>
      <div style={{ position: 'absolute', left: 0, top: 0 }}>
        <ComposedChart width={2316} height={1083} margin={{ top: 75, right: 112, bottom: 67, left: 70 }}>
          <XAxis
            dataKey="t"
            type="number"
            domain={[X_START, X_END]}
            allowDataOverflow
            ticks={YEAR_TICKS}
            interval={0}
            height={50}
            tickSize={14}
            tickMargin={8}
            axisLine={{ stroke: '#e3e3e3', strokeWidth: 2 }}
            tickLine={{ stroke: '#e3e3e3', strokeWidth: 1.5 }}
            tick={YearTick}
          />
          <YAxis
            yAxisId={AX_PRICE}
            orientation="left"
            type="number"
            scale="log"
            domain={[0.02, 200000]}
            allowDataOverflow
            ticks={PRICE_TICKS}
            interval={0}
            width={108}
            tickSize={10}
            tickMargin={15}
            tickLine={false}
            axisLine={{ stroke: '#e2e2e2', strokeWidth: 2.5, transform: 'translate(-10,0)' }}
            tick={PriceTick}
          />
          <YAxis
            yAxisId={AX_MULT}
            orientation="left"
            type="number"
            scale="log"
            domain={[0.6, 6000]}
            allowDataOverflow
            ticks={MULT_TICKS}
            interval={0}
            width={120}
            tickSize={5}
            tickMargin={10}
            tickLine={false}
            axisLine={{ stroke: '#f07e7c', strokeWidth: 2.5 }}
            tick={MultTick}
          />
          <YAxis
            yAxisId={AX_DD}
            orientation="right"
            type="number"
            domain={[-120, 0]}
            allowDataOverflow
            ticks={DD_TICKS}
            interval={0}
            width={100}
            tickSize={10}
            tickMargin={16}
            tickLine={false}
            axisLine={{ stroke: '#fde2c0', strokeWidth: 3, transform: 'translate(11,0)' }}
            tick={DdTick}
          />

          {PRICE_TICKS.map((v) => (
            <ReferenceLine key={'pg' + v} yAxisId={AX_PRICE} y={v} stroke="#efefef" strokeWidth={1} />
          ))}
          {MULT_TICKS.map((v) => (
            <ReferenceLine key={'mg' + v} yAxisId={AX_MULT} y={v} stroke="#efefef" strokeWidth={1} />
          ))}
          {[-30, -60, -90].map((v) => (
            <ReferenceLine key={'dg' + v} yAxisId={AX_DD} y={v} stroke="#efefef" strokeWidth={1} />
          ))}

          <Line yAxisId={AX_PRICE} data={rows(BTC_PRICE)} dataKey="v" name="BTC: Price [USD]" stroke="#e2e2e2" strokeWidth={2.5} dot={false} isAnimationActive={false} />

          <Area yAxisId={AX_DD} data={rows(DD_2011)} dataKey="v" name="2011 Bull Drawdowns" baseValue={0} stroke="none" fill="#f6c88d" fillOpacity={0.95} isAnimationActive={false} />
          <Area yAxisId={AX_DD} data={rows(DD_2011_13)} dataKey="v" name="2011-13 Bull Drawdowns" baseValue={0} stroke="none" fill="#ee8785" fillOpacity={0.95} isAnimationActive={false} />
          <Area yAxisId={AX_DD} data={rows(DD_2015_17)} dataKey="v" name="2015-17 Bull Drawdowns" baseValue={0} stroke="none" fill="#69adf6" fillOpacity={0.95} isAnimationActive={false} />
          <Area yAxisId={AX_DD} data={rows(DD_2018_21)} dataKey="v" name="2018-21 Bull Drawdowns" baseValue={0} stroke="none" fill="#76da92" fillOpacity={0.92} isAnimationActive={false} />
          <Area yAxisId={AX_DD} data={rows(DD_2022)} dataKey="v" name="2022+ Bull Drawdowns" baseValue={0} stroke="none" fill="#000000" fillOpacity={1} isAnimationActive={false} />

          {fibData.map((d, i) => (
            <Line key={'fib' + i} yAxisId={AX_DD} data={d} dataKey="v" name={`${FIB_LEVELS[i].toFixed(1)}%`} stroke="#505050" strokeOpacity={0.85} strokeWidth={2.5} dot={false} isAnimationActive={false} />
          ))}

          <Line yAxisId={AX_MULT} data={rows(GENESIS_2011)} dataKey="v" name="Genesis to 2011 Bull" stroke="#f0912f" strokeWidth={2.8} dot={false} isAnimationActive={false} />
          <Line yAxisId={AX_MULT} data={rows(BULL_2011_2013)} dataKey="v" name="2011 to 2013 Bull" stroke="#ef7270" strokeWidth={2.8} dot={false} isAnimationActive={false} />
          <Line yAxisId={AX_MULT} data={rows(BULL_2015_2017)} dataKey="v" name="2015 to 2017 Bull" stroke="#5a8ef2" strokeWidth={2.8} dot={false} isAnimationActive={false} />
          <Line yAxisId={AX_MULT} data={rows(BULL_2018_2021)} dataKey="v" name="2018 to 2021 Bull" stroke="#4caf57" strokeWidth={2.8} dot={false} isAnimationActive={false} />
          <Line yAxisId={AX_MULT} data={rows(CYCLE_2022)} dataKey="v" name="2022 Cycle+" stroke="#000000" strokeWidth={2.8} dot={false} isAnimationActive={false} />

          {MAX_DD_POINTS.map(([t, d], i) => (
            <ReferenceDot key={'ann' + i} yAxisId={AX_DD} x={t} y={d} r={22} ifOverflow="visible" shape={makeAnnotation(i)} />
          ))}
        </ComposedChart>
      </div>
      <LegendRow items={LEGEND_ROW_1} y={33} />
      <LegendRow items={LEGEND_ROW_2} y={62} />
      <svg style={{ position: 'absolute', left: 2250, top: 31 }} width={24} height={20} viewBox="0 0 24 20">
        <path d="M2 5.5 h5 l2 -3 h6 l2 3 h5 v12 h-20 z" fill="none" stroke="#444" strokeWidth={1.8} strokeLinejoin="round" />
        <circle cx={12} cy={11.5} r={3.8} fill="none" stroke="#444" strokeWidth={1.8} />
      </svg>
    </div>
  );
}
